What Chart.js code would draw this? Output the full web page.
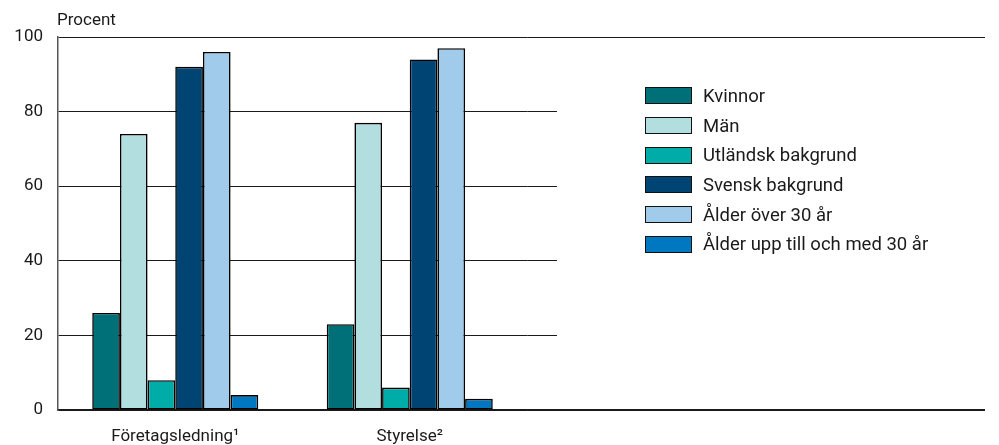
<!DOCTYPE html>
<html>
<head>
<meta charset="utf-8">
<script src="https://cdn.jsdelivr.net/npm/chart.js@4/dist/chart.umd.min.js"></script>
<style>
  html, body { margin: 0; padding: 0; background: #fff; }
  #wrap { position: relative; width: 999px; height: 445px; }
  #legend { position: absolute; left: 645px; top: 81px; font-family: Roboto, sans-serif; font-size: 18.5px; color: #1a1a1a; }
  .row { display: flex; align-items: center; height: 29.7px; }
  .box { width: 45px; height: 15px; border: 1px solid #111; margin-right: 11px; }
</style>
</head>
<body>
<div id="wrap">
  <canvas id="c" width="999" height="445"></canvas>
  <div id="legend"></div>
</div>
<script>
const categories = ['Företagsledning¹', 'Styrelse²', '', ''];
const seriesNames = ['Kvinnor', 'Män', 'Utländsk bakgrund', 'Svensk bakgrund', 'Ålder över 30 år', 'Ålder upp till och med 30 år'];
const kvinnor = [26, 23];
const man = [74, 77];
const utlandsk = [8, 6];
const svensk = [92, 94];
const alderOver30 = [96, 97];
const alderUpp30 = [4, 3];
const yTicks = [0, 20, 40, 60, 80, 100];
const colors = ['#007078', '#b3dedf', '#00aca8', '#004474', '#a0cbeb', '#0077c1'];

const seriesValues = [kvinnor, man, utlandsk, svensk, alderOver30, alderUpp30];

const datasets = seriesNames.map((name, i) => ({
  label: name,
  data: seriesValues[i],
  backgroundColor: colors[i],
  borderColor: '#000',
  borderWidth: 1.6,
  borderSkipped: false,
  barPercentage: 1,
  categoryPercentage: 0.708
}));

// HTML legend
const leg = document.getElementById('legend');
seriesNames.forEach((n, i) => {
  const r = document.createElement('div');
  r.className = 'row';
  r.innerHTML = '<div class="box" style="background:' + colors[i] + '"></div><span>' + n + '</span>';
  leg.appendChild(r);
});

const fontFamily = 'Roboto, sans-serif';
const axisRight = 985;

const maskPlugin = {
  id: 'mask',
  beforeDatasetsDraw(chart) {
    const { ctx, chartArea } = chart;
    const xCut = 557;
    ctx.save();
    ctx.fillStyle = '#fff';
    ctx.fillRect(xCut, chartArea.top + 1.5, chartArea.right - xCut + 2, chartArea.bottom - chartArea.top - 3);
    ctx.restore();
  },
  afterDraw(chart) {
    const { ctx, chartArea } = chart;
    ctx.save();
    ctx.fillStyle = '#fff';
    ctx.fillRect(axisRight, chartArea.top - 3, 999 - axisRight, chartArea.bottom - chartArea.top + 6);
    ctx.fillStyle = '#1a1a1a';
    ctx.font = '17px ' + fontFamily;
    ctx.textBaseline = 'alphabetic';
    ctx.textAlign = 'left';
    ctx.fillText('Procent', chartArea.left - 1, 25);
    ctx.restore();
  }
};

new Chart(document.getElementById('c'), {
  type: 'bar',
  data: { labels: categories, datasets },
  plugins: [maskPlugin],
  options: {
    responsive: false,
    animation: false,
    layout: { padding: { top: 37, right: 3, left: 0, bottom: 0 } },
    plugins: { legend: { display: false }, tooltip: { enabled: false } },
    scales: {
      x: {
        grid: { display: false, drawTicks: false },
        border: { display: true, color: '#1a1a1a', width: 1.5 },
        ticks: { color: '#1a1a1a', font: { family: fontFamily, size: 17 }, padding: 17, maxRotation: 0 },
        afterFit(s) { s.height = 35; }
      },
      y: {
        min: 0, max: 100,
        afterBuildTicks(s) { s.ticks = yTicks.map(v => ({ value: v })); },
        grid: { color: '#1a1a1a', lineWidth: 1, drawTicks: false },
        border: { display: true, color: '#555', width: 1.5 },
        ticks: { color: '#1a1a1a', font: { family: fontFamily, size: 17 }, padding: 15 },
        afterFit(s) { s.width = 58; }
      }
    }
  }
});
</script>
</body>
</html>
